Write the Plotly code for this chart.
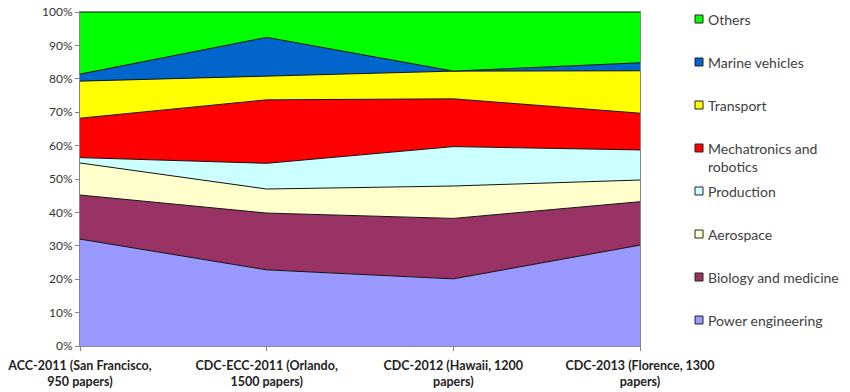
import plotly.graph_objects as go

# Conferences (x categories)
conferences = [
    "ACC-2011 (San Francisco,<br>950 papers)",
    "CDC-ECC-2011 (Orlando,<br>1500 papers)",
    "CDC-2012 (Hawaii, 1200<br>papers)",
    "CDC-2013 (Florence, 1300<br>papers)",
]

# Share of papers per application area, % of each conference
power_engineering = [32.0, 22.8, 20.1, 30.2]
biology_medicine = [13.2, 17.0, 18.1, 13.0]
aerospace = [9.6, 7.2, 9.7, 6.5]
production = [1.6, 7.7, 11.8, 9.0]
mechatronics = [11.8, 19.0, 14.3, 11.0]
transport = [11.1, 7.1, 8.3, 12.7]
marine_vehicles = [2.1, 11.6, 0.0, 2.4]
others = [18.6, 7.6, 17.7, 15.2]

series = [
    ("Power engineering", power_engineering, "#9999FF"),
    ("Biology and medicine", biology_medicine, "#993366"),
    ("Aerospace", aerospace, "#FFFFCC"),
    ("Production", production, "#CCFFFF"),
    ("Mechatronics and<br>robotics", mechatronics, "#FF0000"),
    ("Transport", transport, "#FFFF00"),
    ("Marine vehicles", marine_vehicles, "#0066CC"),
    ("Others", others, "#00FF00"),
]

FONT = "Lato, 'Open Sans', sans-serif"
TEXT = "#404040"

fig = go.Figure()
for name, vals, color in series:
    fig.add_trace(go.Scatter(
        x=conferences, y=vals, name=name, mode="lines",
        stackgroup="one", fillcolor=color,
        line=dict(color="#111111", width=1),
        showlegend=False, hoverinfo="x+y+name",
    ))

# Plot-area geometry in pixels (used to place the hand-made legend)
L, R, T, B = 80, 640, 12, 346
W, H = 850, 392


def px(x):
    return (x - L) / (R - L)


def py(y):
    return (B - y) / (B - T)


# Legend: top to bottom, Others ... Power engineering
legend_y = [19, 62, 105, 148, 191, 234, 277, 320]
for (name, vals, color), yc in zip(reversed(series), legend_y):
    fig.add_shape(
        type="rect", xref="paper", yref="paper",
        x0=px(695), x1=px(703), y0=py(yc + 4), y1=py(yc - 4),
        fillcolor=color, line=dict(color="#222222", width=1),
    )
    fig.add_annotation(
        x=px(706), y=py(yc - 10), xref="paper", yref="paper",
        text=name, showarrow=False, xanchor="left", yanchor="top",
        align="left", font=dict(family=FONT, size=14, color=TEXT),
    )

fig.update_layout(
    width=W, height=H,
    margin=dict(l=L, r=W - R, t=T, b=H - B, autoexpand=False),
    paper_bgcolor="white", plot_bgcolor="white",
    font=dict(family=FONT, color=TEXT),
    showlegend=False,
)
fig.update_xaxes(
    type="category", range=[0, 3], showgrid=False, automargin=False,
    showline=True, linecolor="#868686", linewidth=1, mirror=True,
    ticks="outside", ticklen=4, tickcolor="#868686", ticklabelstandoff=4,
    tickfont=dict(family=FONT, size=12.5, color="#222222", weight="bold"),
)
fig.update_yaxes(
    range=[0, 100], dtick=10, ticksuffix="%", showgrid=False, automargin=False,
    showline=True, linecolor="#868686", linewidth=1, mirror=True,
    ticks="outside", ticklen=4, tickcolor="#868686",
    tickfont=dict(family=FONT, size=12, color="#333333"),
)

fig.write_html("out.html")
